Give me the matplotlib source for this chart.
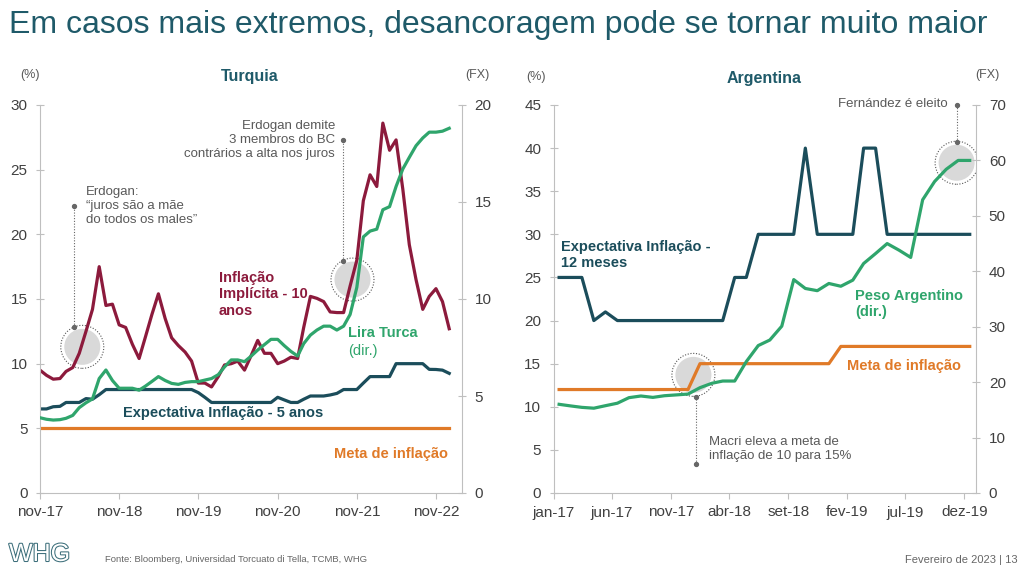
import numpy as np
import pandas as pd
import matplotlib
matplotlib.use("Agg")
import matplotlib.pyplot as plt
import matplotlib.dates as mdates
import matplotlib.patheffects as pe
from matplotlib.patches import Circle
from matplotlib.transforms import ScaledTranslation

plt.rcParams['font.family'] = ['Liberation Sans', 'DejaVu Sans']

#--------------------------------------------------------------------------------------------
# Turquia (monthly, from nov-17)
tur_dates = pd.date_range('2017-11-01', periods=63, freq='MS')
tur_implicita = [9.5, 9.1, 8.8, 8.85, 9.4, 9.7, 10.8, 12.5, 14.2, 17.5,
                 14.5, 14.6, 13.0, 12.8, 11.5, 10.4, 12.0, 13.8, 15.4, 13.5,
                 12.0, 11.4, 10.9, 10.2, 8.5, 8.5, 8.2, 9.0, 9.9, 10.0,
                 10.2, 9.5, 10.6, 11.8, 10.8, 10.8, 10.0, 10.2, 10.5, 10.4,
                 12.8, 15.2, 15.05, 14.8, 14.0, 13.95, 13.95, 16.0, 18.0, 22.6,
                 24.6, 23.7, 28.6, 26.5, 27.3, 23.5, 19.2, 16.5, 14.2, 15.2,
                 15.8, 14.8, 12.7]
tur_lira = [3.88, 3.8, 3.76, 3.78, 3.85, 4.0, 4.4, 4.65, 4.85, 5.9,
            6.34, 5.8, 5.4, 5.4, 5.4, 5.3, 5.5, 5.75, 6.0, 5.8,
            5.65, 5.6, 5.7, 5.74, 5.74, 5.82, 5.9, 6.1, 6.5, 6.86,
            6.86, 6.77, 7.05, 7.37, 7.65, 7.92, 7.92, 7.6, 7.3, 7.06,
            7.7, 8.14, 8.4, 8.6, 8.6, 8.4, 8.6, 9.2, 10.6, 13.2,
            13.5, 13.6, 14.6, 14.76, 15.8, 16.7, 17.3, 17.9, 18.3, 18.6,
            18.6, 18.65, 18.8]
tur_expect5 = [6.5, 6.5, 6.67, 6.7, 7.0, 7.0, 7.0, 7.3, 7.25, 7.6,
               8.0, 8.0, 8.0, 8.0, 8.0, 8.0, 8.0, 8.0, 8.0, 8.0,
               8.0, 8.0, 8.0, 8.0, 7.76, 7.4, 7.0, 7.0, 7.0, 7.0,
               7.0, 7.0, 7.0, 7.0, 7.0, 7.0, 7.4, 7.2, 7.0, 7.0,
               7.25, 7.5, 7.5, 7.5, 7.58, 7.7, 8.0, 8.0, 8.0, 8.5,
               9.0, 9.0, 9.0, 9.0, 10.0, 10.0, 10.0, 10.0, 10.0, 9.56,
               9.55, 9.5, 9.25]
tur_meta = [5.0] * 63
tur_ticks = ['2017-11-01', '2018-11-01', '2019-11-01', '2020-11-01', '2021-11-01', '2022-11-01']
tur_ticklabels = ['nov-17', 'nov-18', 'nov-19', 'nov-20', 'nov-21', 'nov-22']

# Argentina (monthly, mid-month, from jan-17)
arg_dates = pd.date_range('2017-01-01', periods=36, freq='MS') + pd.Timedelta(days=14)
arg_expect12 = [25, 25, 25, 20, 21, 20, 20, 20, 20, 20,
                20, 20, 20, 20, 20, 25, 25, 30, 30, 30,
                30, 40, 30, 30, 30, 30, 40, 40, 30, 30,
                30, 30, 30, 30, 30, 30]
arg_meta = [12] * 12 + [15] * 12 + [17] * 12
arg_peso = [16.0, 15.7, 15.45, 15.3, 15.75, 16.2, 17.2, 17.5, 17.25, 17.55,
            17.7, 17.85, 19.0, 19.8, 20.2, 20.2, 23.7, 26.6, 27.6, 30.1,
            38.5, 36.9, 36.5, 37.8, 37.3, 38.4, 41.4, 43.2, 45.0, 43.8,
            42.5, 52.9, 56.2, 58.4, 60.0, 60.0]
arg_ticks = ['2017-01-01', '2017-06-01', '2017-11-01', '2018-04-01', '2018-09-01',
             '2019-02-01', '2019-07-01', '2019-12-01']
arg_ticklabels = ['jan-17', 'jun-17', 'nov-17', 'abr-18', 'set-18', 'fev-19', 'jul-19', 'dez-19']

#--------------------------------------------------------------------------------------------

cRed = '#8c1a3c'
cGreen = '#2fa56c'
cTeal = '#1b4d5b'
cOrange = '#e07a28'
cTitle = '#1f5a69'
cGrey = '#595959'
cSpine = '#bfbfbf'

W, H = 1024, 574
fig = plt.figure(figsize=(10.24, 5.74), dpi=100)

def ftext(x, y, s, **kw):
    fig.text(x / W, 1 - y / H, s, **kw)

def style_axes(ax, ax2):
    for a in (ax, ax2):
        a.spines['top'].set_visible(False)
        for s in ('left', 'right', 'bottom'):
            a.spines[s].set_color(cSpine)
            a.spines[s].set_linewidth(0.8)
        a.tick_params(colors=cSpine, labelcolor='#404040', labelsize=11, width=0.8)
    ax.spines['right'].set_visible(False)
    ax2.spines['left'].set_visible(False)
    ax2.spines['bottom'].set_visible(False)
    ax.tick_params(axis='y', direction='inout', length=6, pad=6)
    ax2.tick_params(axis='y', direction='inout', length=6, pad=6)
    ax.tick_params(axis='x', direction='out', length=4, pad=5)

def ring(ax, xd, yd):
    xn = mdates.date2num(pd.Timestamp(xd))
    tr = fig.dpi_scale_trans + ScaledTranslation(xn, yd, ax.transData)
    ax.add_patch(Circle((0, 0), 0.18, transform=tr, facecolor='#d9d9d9', edgecolor='none', zorder=1))
    ax.add_patch(Circle((0, 0), 0.215, transform=tr, facecolor='none', edgecolor='#555555',
                        linestyle=(0, (1, 1.5)), lw=0.8, zorder=1))

def pointer(ax, xd, y0, y1):
    x = pd.Timestamp(xd)
    ax.plot([x, x], [y0, y1], ls=(0, (1, 1.5)), lw=0.8, color='#666666', zorder=1, clip_on=False)
    ax.plot([x, x], [y0, y1], 'o', ms=2.8, color='#666666', zorder=1, clip_on=False)

#--------------------------------------------------------------------------------------------
# Turquia

ax1 = fig.add_axes([40 / W, 81 / H, 422 / W, 388 / H])
ax1b = ax1.twinx()

ring(ax1, '2018-05-15', 11.3)
ring(ax1, '2021-10-12', 16.5)
pointer(ax1, '2018-04-07', 12.84, 22.2)
pointer(ax1, '2021-08-28', 17.9, 27.3)

ax1.plot(tur_dates, tur_meta, color=cOrange, lw=2.3, zorder=2)
ax1.plot(tur_dates, tur_expect5, color=cTeal, lw=2.3, zorder=2)
ax1.plot(tur_dates, tur_implicita, color=cRed, lw=2.3, zorder=2)
ax1b.plot(tur_dates, tur_lira, color=cGreen, lw=2.3)

ax1.set_ylim(0, 30)
ax1.set_yticks(np.arange(0, 31, 5))
ax1b.set_ylim(0, 20)
ax1b.set_yticks(np.arange(0, 21, 5))
ax1.set_xlim(pd.Timestamp('2017-11-01'), pd.Timestamp('2023-03-01'))
ax1.set_xticks(pd.to_datetime(tur_ticks))
ax1.set_xticklabels(tur_ticklabels)
style_axes(ax1, ax1b)

#--------------------------------------------------------------------------------------------
# Argentina

ax2 = fig.add_axes([553.7 / W, 81 / H, 422.6 / W, 388 / H])
ax2b = ax2.twinx()

ring(ax2, '2017-12-29', 13.7)
ring(ax2, '2019-11-11', 38.3)
pointer(ax2, '2018-01-05', 3.36, 11.17)
pointer(ax2, '2019-11-11', 40.75, 45.0)

ax2.plot(arg_dates, arg_meta, color=cOrange, lw=2.3, zorder=2)
ax2.plot(arg_dates, arg_expect12, color=cTeal, lw=2.3, zorder=2)
ax2b.plot(arg_dates, arg_peso, color=cGreen, lw=2.3)

ax2.set_ylim(0, 45)
ax2.set_yticks(np.arange(0, 46, 5))
ax2b.set_ylim(0, 70)
ax2b.set_yticks(np.arange(0, 71, 10))
ax2.set_xlim(pd.Timestamp('2017-01-01'), pd.Timestamp('2020-01-01'))
ax2.set_xticks(pd.to_datetime(arg_ticks))
ax2.set_xticklabels(arg_ticklabels)
style_axes(ax2, ax2b)

#--------------------------------------------------------------------------------------------
# texts

ftext(9, 33, 'Em casos mais extremos, desancoragem pode se tornar muito maior',
      fontsize=23, color=cTitle, va='baseline', ha='left')

ftext(250, 77, 'Turquia', fontsize=11.5, fontweight='bold', color=cTitle, ha='center', va='center')
ftext(30, 75, '(%)', fontsize=9, color=cGrey, ha='center', va='center')
ftext(477, 75, '(FX)', fontsize=9, color=cGrey, ha='center', va='center')

ftext(764, 78, 'Argentina', fontsize=11.5, fontweight='bold', color=cTitle, ha='center', va='center')
ftext(536, 77, '(%)', fontsize=9, color=cGrey, ha='center', va='center')
ftext(987, 75, '(FX)', fontsize=9, color=cGrey, ha='center', va='center')

ftext(86, 206, 'Erdogan:\n\u201cjuros s\u00e3o a m\u00e3e\ndo todos os males\u201d',
      fontsize=9.5, color=cGrey, ha='left', va='center', linespacing=1.25)
ftext(335, 140, 'Erdogan demite\n3 membros do BC\ncontr\u00e1rios a alta nos juros',
      fontsize=9.5, color=cGrey, ha='right', va='center', multialignment='right', linespacing=1.25)
ftext(219, 294.5, 'Infla\u00e7\u00e3o\nImpl\u00edcita - 10\nanos', fontsize=10.5, fontweight='bold',
      color=cRed, ha='left', va='center', linespacing=1.25)
ftext(348, 333, 'Lira Turca', fontsize=10.5, fontweight='bold', color=cGreen, ha='left', va='center')
ftext(348, 351, '(dir.)', fontsize=10.5, color=cGreen, ha='left', va='center')
ftext(123, 413, 'Expectativa Infla\u00e7\u00e3o - 5 anos', fontsize=10.5, fontweight='bold',
      color=cTeal, ha='left', va='center')
ftext(334, 454, 'Meta de infla\u00e7\u00e3o', fontsize=10.5, fontweight='bold', color=cOrange,
      ha='left', va='center')

ftext(561, 255, 'Expectativa Infla\u00e7\u00e3o -\n12 meses', fontsize=10.5, fontweight='bold',
      color=cTeal, ha='left', va='center', linespacing=1.25)
ftext(855, 304, 'Peso Argentino\n(dir.)', fontsize=10.5, fontweight='bold',
      color=cGreen, ha='left', va='center', linespacing=1.25)
ftext(847, 366, 'Meta de infla\u00e7\u00e3o', fontsize=10.5, fontweight='bold', color=cOrange,
      ha='left', va='center')
ftext(709, 449, 'Macri eleva a meta de\ninfla\u00e7\u00e3o de 10 para 15%', fontsize=9.5,
      color=cGrey, ha='left', va='center', linespacing=1.25)
ftext(948, 104, 'Fern\u00e1ndez \u00e9 eleito', fontsize=9.5, color=cGrey, ha='right', va='center')

# footer
ftext(9, 554, 'WHG', fontsize=18, color='white', ha='left', va='center',
      path_effects=[pe.withStroke(linewidth=1.5, foreground='#3d6f7b')])
ftext(105, 560, 'Fonte: Bloomberg, Universidad Torcuato di Tella, TCMB, WHG', fontsize=6.8,
      color='#666666', ha='left', va='center')
ftext(1018, 560, 'Fevereiro de 2023 | 13', fontsize=8, color='#666666', ha='right', va='center')

fig.savefig('out.png', dpi=100)
